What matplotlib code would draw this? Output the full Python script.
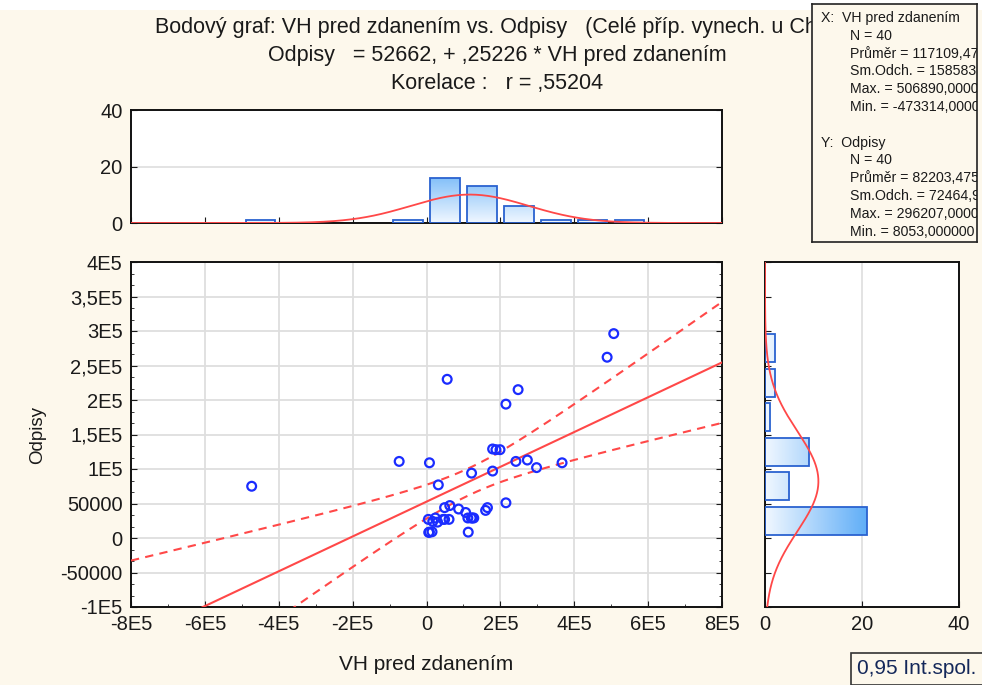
import numpy as np
import matplotlib
matplotlib.use('Agg')
import matplotlib.pyplot as plt
from matplotlib.patches import Rectangle
from matplotlib.ticker import FixedLocator, AutoMinorLocator
from matplotlib.colors import LinearSegmentedColormap

plt.rcParams['font.family'] = ['Liberation Sans', 'DejaVu Sans']

# ---------------- data ----------------
vh_pred_zdanenim = np.array([
    -473314, -74000, 8000, 56000, 248000, 215000, 179000, 188000, 199000, 242000,
    273000, 367000, 298000, 179000, 122000, 32000, 215000, 489000, 506890, 49000,
    63000, 87000, 106000, 112000, 121000, 128000, 160000, 165000, 49000, 61000,
    5000, 17000, 24000, 30000, 8000, 15000, 113000, 6000, 45000, 124000])
odpisy = np.array([
    75000, 111000, 109000, 230000, 215000, 194000, 129000, 128000, 128000, 111000,
    113000, 109000, 102000, 97000, 94000, 77000, 51000, 262000, 296207, 44000,
    47000, 42000, 37000, 29000, 29000, 29000, 40000, 44000, 27000, 27000,
    27000, 24000, 29000, 23000, 8500, 9000, 8500, 8053, 27000, 29000])

# regression / descriptive statistics as printed on the chart
intercept = 52662.0
slope = 0.25226
r_corr = 0.55204
n_obs = 40
x_mean, x_sd = 117109.475, 158583.0
y_mean, y_sd = 82203.475, 72464.9
t_crit = 2.0244  # t(0.975, 38)

x_hist_edges = np.arange(-8e5, 8e5 + 1, 1e5)
y_hist_edges = np.arange(-1e5, 4e5 + 1, 5e4)

x_ticks = [-8e5, -6e5, -4e5, -2e5, 0, 2e5, 4e5, 6e5, 8e5]
x_tick_labels = ['-8E5', '-6E5', '-4E5', '-2E5', '0', '2E5', '4E5', '6E5', '8E5']
y_ticks = [-1e5, -5e4, 0, 5e4, 1e5, 1.5e5, 2e5, 2.5e5, 3e5, 3.5e5, 4e5]
y_tick_labels = ['-1E5', '-50000', '0', '50000', '1E5', '1,5E5', '2E5', '2,5E5',
                 '3E5', '3,5E5', '4E5']
hist_ticks = [0, 20, 40]
hist_tick_labels = ['0', '20', '40']

title_lines = ['Bodový graf: VH pred zdanením vs. Odpisy   (Celé příp. vynech. u ChD)',
               'Odpisy   = 52662, + ,25226 * VH pred zdanením',
               'Korelace :   r = ,55204']
# (text, indented?)
stats_lines = [('X:  VH pred zdanením', False), ('N = 40', True),
               ('Průměr = 117109,475000', True), ('Sm.Odch. = 158583,0000', True),
               ('Max. = 506890,000000', True), ('Min. = -473314,000000', True),
               ('', False),
               ('Y:  Odpisy', False), ('N = 40', True), ('Průměr = 82203,475000', True),
               ('Sm.Odch. = 72464,90000', True), ('Max. = 296207,000000', True),
               ('Min. = 8053,000000', True)]

# ---------------- style ----------------
W, H = 982, 685
CREAM = '#fdf8ec'
BLUE_PT = '#1a2cff'
RED = '#ff4848'
GRID = '#dedede'
EDGE = '#2a62d0'
TXT = '#1a1a1a'
TICK_FS = 14.5
grad_cmap = LinearSegmentedColormap.from_list('g', ['#f0f7ff', '#5aabf7'])

fig = plt.figure(figsize=(W / 100, H / 100), dpi=100, facecolor=CREAM)
fig.patches.append(Rectangle((0, 1 - 10 / H), 1, 10 / H, transform=fig.transFigure,
                             facecolor='white', edgecolor='none', zorder=0))


def fx(px):
    return px / W


def fy(py):
    return 1 - py / H


ax = fig.add_axes([fx(131), fy(607), fx(722) - fx(131), fy(262) - fy(607)])
axt = fig.add_axes([fx(131), fy(223), fx(722) - fx(131), fy(110) - fy(223)])
axr = fig.add_axes([fx(765), fy(607), fx(959) - fx(765), fy(262) - fy(607)])

for a in (ax, axt, axr):
    a.set_facecolor('white')
    for s in a.spines.values():
        s.set_linewidth(1.4)
        s.set_color('#111111')

# ---------------- main scatter ----------------
ax.set_xlim(-8e5, 8e5)
ax.set_ylim(-1e5, 4e5)
ax.xaxis.set_major_locator(FixedLocator(x_ticks))
ax.set_xticklabels(x_tick_labels)
ax.yaxis.set_major_locator(FixedLocator(y_ticks))
ax.set_yticklabels(y_tick_labels)
ax.xaxis.set_minor_locator(AutoMinorLocator(2))
ax.yaxis.set_minor_locator(AutoMinorLocator(3))
ax.tick_params(which='both', direction='in', top=False, right=True, labelsize=TICK_FS,
               colors=TXT, pad=6)
ax.tick_params(which='major', length=4)
ax.tick_params(which='minor', length=2)
ax.grid(True, which='major', color=GRID, linewidth=1.3, zorder=0)
ax.set_axisbelow(True)

xx = np.linspace(-8e5, 8e5, 300)
yhat = intercept + slope * xx
s_res = y_sd * np.sqrt(1 - r_corr ** 2) * np.sqrt((n_obs - 1) / (n_obs - 2))
half = t_crit * s_res * np.sqrt(1 / n_obs + (xx - x_mean) ** 2 / ((n_obs - 1) * x_sd ** 2))
ax.plot(xx, yhat, color=RED, lw=1.5, zorder=3)
ax.plot(xx, yhat + half, color=RED, lw=1.5, ls=(0, (4, 3)), zorder=3)
ax.plot(xx, yhat - half, color=RED, lw=1.5, ls=(0, (4, 3)), zorder=3)
ax.scatter(vh_pred_zdanenim, odpisy, s=40, facecolors='none', edgecolors=BLUE_PT,
           linewidths=1.6, zorder=4)
ax.set_xlabel('VH pred zdanením', fontsize=15, color=TXT, labelpad=15)
ax.set_ylabel('Odpisy', fontsize=13.5, color=TXT, labelpad=10)


def gradient_bars(a, bars, horizontal, vmax):
    for b in bars:
        x0, y0 = b.get_x(), b.get_y()
        w, h = b.get_width(), b.get_height()
        if w == 0 or h == 0:
            continue
        if horizontal:
            g = np.linspace(0, w, 64).reshape(1, -1)
        else:
            g = np.linspace(0, h, 64).reshape(-1, 1)
        im = a.imshow(g, extent=[x0, x0 + w, y0, y0 + h], origin='lower', aspect='auto',
                      cmap=grad_cmap, vmin=0, vmax=vmax, zorder=2, interpolation='bilinear')
        im.set_clip_path(b)


# ---------------- top histogram ----------------
cx, _ = np.histogram(vh_pred_zdanenim, bins=x_hist_edges)
cen_x = 0.5 * (x_hist_edges[:-1] + x_hist_edges[1:])
keep = cx > 0
bt = axt.bar(cen_x[keep], cx[keep], width=0.8e5, facecolor='none', edgecolor=EDGE,
             linewidth=1.3, zorder=3)
gradient_bars(axt, bt, False, 22)
xg = np.linspace(-8e5, 8e5, 400)
axt.plot(xg, n_obs * 1e5 * np.exp(-0.5 * ((xg - x_mean) / x_sd) ** 2) / (x_sd * np.sqrt(2 * np.pi)),
         color=RED, lw=1.3, zorder=4)
axt.set_xlim(-8e5, 8e5)
axt.set_ylim(0, 40)
axt.xaxis.set_major_locator(FixedLocator(x_ticks))
axt.set_xticklabels([])
axt.yaxis.set_major_locator(FixedLocator(hist_ticks))
axt.set_yticklabels(hist_tick_labels)
axt.tick_params(direction='in', right=True, length=4, labelsize=TICK_FS, colors=TXT, pad=6)
axt.tick_params(axis='x', bottom=True)
axt.grid(True, axis='y', color=GRID, linewidth=1.2, zorder=0)
axt.set_axisbelow(True)

# ---------------- right histogram ----------------
cy, _ = np.histogram(odpisy, bins=y_hist_edges)
cen_y = 0.5 * (y_hist_edges[:-1] + y_hist_edges[1:])
keep = cy > 0
br = axr.barh(cen_y[keep], cy[keep], height=0.8 * 5e4, facecolor='none', edgecolor=EDGE,
              linewidth=1.3, zorder=3)
gradient_bars(axr, br, True, 22)
yg = np.linspace(-1e5, 4e5, 400)
axr.plot(n_obs * 5e4 * np.exp(-0.5 * ((yg - y_mean) / y_sd) ** 2) / (y_sd * np.sqrt(2 * np.pi)), yg,
         color=RED, lw=1.3, zorder=4)
axr.set_xlim(0, 40)
axr.set_ylim(-1e5, 4e5)
axr.xaxis.set_major_locator(FixedLocator(hist_ticks))
axr.set_xticklabels(hist_tick_labels)
axr.yaxis.set_major_locator(FixedLocator(y_ticks))
axr.set_yticklabels([])
axr.tick_params(direction='in', length=4, labelsize=TICK_FS, colors=TXT, pad=6)
axr.grid(True, axis='x', color=GRID, linewidth=1.2, zorder=0)
axr.set_axisbelow(True)

# ---------------- title ----------------
for i, line in enumerate(title_lines):
    fig.text(fx(497), fy(28 + 27.5 * i), line, ha='center', va='center', fontsize=15.5,
             color=TXT, zorder=3)

# ---------------- statistics box ----------------
box_l, box_r, box_t, box_b = 812, 977, 4, 242
axs = fig.add_axes([fx(box_l), fy(box_b), fx(box_r) - fx(box_l), fy(box_t) - fy(box_b)],
                   zorder=10)
axs.set_facecolor(CREAM)
axs.set_xticks([])
axs.set_yticks([])
for s in axs.spines.values():
    s.set_linewidth(1.2)
    s.set_color('#222222')
axs.set_xlim(box_l, box_r)
axs.set_ylim(box_b, box_t)
for i, (line, indented) in enumerate(stats_lines):
    if not line:
        continue
    axs.text(850 if indented else 821, 18 + 17.8 * i, line, ha='left', va='center',
             fontsize=10.2, color=TXT, clip_on=True)

# ---------------- legend box ----------------
fig.text(fx(857), fy(669), '0,95 Int.spol.', ha='left', va='center', fontsize=15,
         color='#14285a', zorder=5,
         bbox=dict(boxstyle='square,pad=0.3', facecolor=CREAM, edgecolor='#333333', linewidth=1.2))

fig.savefig('out.png', dpi=100, facecolor=CREAM)
